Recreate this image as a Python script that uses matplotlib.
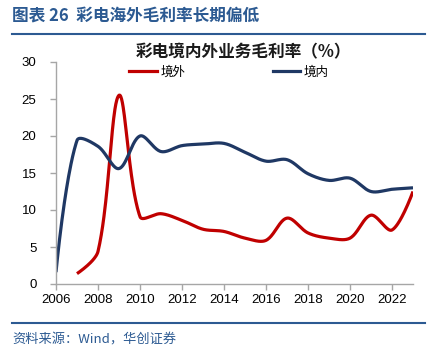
import numpy as np
import matplotlib
matplotlib.use("Agg")
import matplotlib.pyplot as plt
from matplotlib.lines import Line2D

plt.rcParams['font.family'] = ['Liberation Sans', 'Noto Sans CJK SC', 'DejaVu Sans']

years_dom = [2006, 2007, 2008, 2009, 2010, 2011, 2012, 2013, 2014, 2015, 2016, 2017, 2018, 2019, 2020, 2021, 2022, 2023]
domestic = [1.6, 19.4, 18.6, 15.6, 20.0, 17.9, 18.7, 18.9, 19.0, 17.8, 16.6, 16.8, 14.9, 14.0, 14.3, 12.5, 12.8, 13.0]
years_ovs = [2007, 2008, 2009, 2010, 2011, 2012, 2013, 2014, 2015, 2016, 2017, 2018, 2019, 2020, 2021, 2022, 2023]
overseas = [1.4, 4.4, 25.5, 9.1, 9.5, 8.6, 7.4, 7.1, 6.2, 5.9, 8.9, 6.9, 6.2, 6.2, 9.3, 7.3, 12.5]
xticks = list(range(2006, 2023, 2))
yticks = [0, 5, 10, 15, 20, 25, 30]
labels = ['境外', '境内']

SX, SY = 21.0, 7.4  # screen pixels per data unit, for shape of smoothing


def smooth(x, y, n=40, k=1 / 3):
    P = np.column_stack([np.asarray(x, float) * SX, np.asarray(y, float) * SY])
    m = len(P)
    tin = np.zeros_like(P)
    tout = np.zeros_like(P)
    for i in range(1, m - 1):
        d = P[i + 1] - P[i - 1]
        a = np.hypot(*(P[i] - P[i - 1]))
        b = np.hypot(*(P[i + 1] - P[i]))
        tin[i] = d * k * a / (a + b)
        tout[i] = d * k * b / (a + b)
    t = np.linspace(0, 1, n, endpoint=False)[:, None]
    pts = []
    for i in range(m - 1):
        p0, p3 = P[i], P[i + 1]
        p1, p2 = p0 + tout[i], p3 - tin[i + 1]
        pts.append((1 - t) ** 3 * p0 + 3 * (1 - t) ** 2 * t * p1 + 3 * (1 - t) * t ** 2 * p2 + t ** 3 * p3)
    pts.append(P[-1:])
    pts = np.vstack(pts)
    return pts[:, 0] / SX, pts[:, 1] / SY


red = '#C00000'
navy = '#1F3864'
hdr = '#2C5A92'

fig = plt.figure(figsize=(4.43, 3.62), dpi=100)
ax = fig.add_axes([56 / 443, 1 - 284 / 362, (413 - 56) / 443, (284 - 62) / 362])

xs, ys = smooth(years_ovs, overseas)
ax.plot(xs, ys, color=red, lw=2.3, solid_capstyle='butt')
xs, ys = smooth(years_dom, domestic)
ax.plot(xs, ys, color=navy, lw=2.3, solid_capstyle='butt')

ax.set_xlim(2006, 2023)
ax.set_ylim(0, 30)
ax.set_xticks(xticks)
ax.set_yticks(yticks)
for s in ['top', 'right']:
    ax.spines[s].set_visible(False)
for s in ['left', 'bottom']:
    ax.spines[s].set_color('#A6A6A6')
    ax.spines[s].set_linewidth(1.0)
ax.tick_params(axis='both', colors='#A6A6A6', labelcolor='black', labelsize=9.5, length=4, width=1.0)
ax.tick_params(axis='y', pad=10)
ax.tick_params(axis='x', pad=3)

handles = [Line2D([], [], color=red, lw=2.3), Line2D([], [], color=navy, lw=2.3)]
fig.legend(handles, labels, loc='center', bbox_to_anchor=(229 / 443, 1 - 72 / 362), ncol=2,
           frameon=False, handlelength=2.2, handletextpad=0.3, columnspacing=7.0,
           borderpad=0, prop={'family': ['Noto Sans CJK SC'], 'size': 9})

fig.text(243 / 443, 1 - 52 / 362, '彩电境内外业务毛利率（%）', ha='center', va='center', fontsize=12,
         fontweight='bold', family=['Noto Sans CJK SC', 'DejaVu Sans'], color='#1A1A1A')

fig.text(12 / 443, 1 - 16 / 362, '图表 26  彩电海外毛利率长期偏低', ha='left', va='center', fontsize=12,
         fontweight='bold', family=['Noto Sans CJK SC', 'DejaVu Sans'], color=hdr)
fig.add_artist(Line2D([12 / 443, 425 / 443], [1 - 33.5 / 362] * 2, color=hdr, lw=1.5))
fig.add_artist(Line2D([12 / 443, 425 / 443], [1 - 322.5 / 362] * 2, color=hdr, lw=1.5))
fig.text(12 / 443, 1 - 340 / 362, '资料来源：Wind，华创证券', ha='left', va='center', fontsize=9.5,
         style='italic', family=['Noto Sans CJK SC', 'DejaVu Sans'], color=hdr)

fig.savefig('out.png', dpi=100)
